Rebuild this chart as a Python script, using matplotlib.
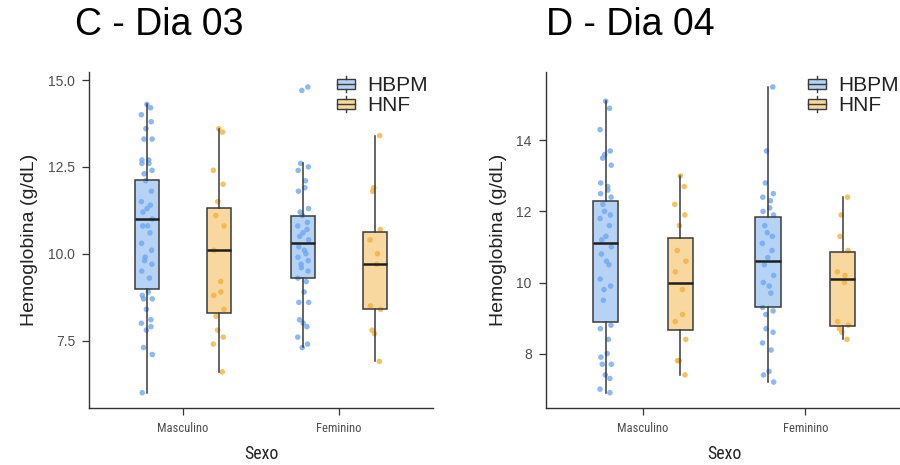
import numpy as np
import matplotlib
matplotlib.use("Agg")
import matplotlib.pyplot as plt
from matplotlib import font_manager
from matplotlib.legend_handler import HandlerBase
from matplotlib.patches import Rectangle
from matplotlib.lines import Line2D

# ---------------- data ----------------
groups = ["HBPM", "HNF"]
categories = ["Masculino", "Feminino"]
titles = ["C - Dia 03", "D - Dia 04"]

# box stats: (whislo, q1, med, q3, whishi)
stats_C_HBPM = [(6.0, 8.99, 11.0, 12.12, 14.32), (7.31, 9.29, 10.31, 11.10, 12.62)]
stats_C_HNF = [(6.61, 8.29, 10.1, 11.31, 13.6), (6.9, 8.4, 9.7, 10.62, 13.4)]
stats_D_HBPM = [(6.9, 8.89, 11.1, 12.30, 15.1), (7.19, 9.30, 10.6, 11.85, 15.5)]
stats_D_HNF = [(7.41, 8.65, 10.0, 11.24, 13.0), (8.40, 8.78, 10.09, 10.86, 12.41)]

# individual points
C_HBPM_M = [14.3, 14.2, 14.0, 13.8, 13.6, 13.3, 13.3, 12.7, 12.7, 12.6, 12.6, 12.4, 12.3,
            12.1, 11.8, 11.5, 11.4, 11.3, 11.2, 11.0, 10.8, 10.8, 10.6, 10.3, 10.1, 9.9,
            9.8, 9.7, 9.5, 9.3, 8.9, 8.8, 8.7, 8.7, 8.4, 8.1, 8.0, 7.9, 7.8, 7.3, 7.1, 6.0]
C_HNF_M = [13.6, 13.5, 12.4, 12.0, 11.5, 11.1, 10.8, 10.1, 9.2, 8.9, 8.8, 8.4, 8.2, 7.8,
           7.6, 7.4, 6.6]
C_HBPM_F = [14.8, 14.7, 12.6, 12.5, 12.4, 12.1, 11.9, 11.8, 11.3, 11.2, 11.1, 10.9, 10.8,
            10.7, 10.6, 10.5, 10.4, 10.2, 10.1, 10.0, 9.9, 9.8, 9.7, 9.6, 9.5, 9.3, 9.2,
            8.9, 8.6, 8.6, 8.1, 8.0, 7.9, 7.6, 7.4, 7.3]
C_HNF_F = [13.4, 11.9, 11.8, 10.7, 10.4, 10.0, 9.7, 8.5, 8.4, 7.8, 7.7, 6.9]

D_HBPM_M = [15.1, 14.9, 14.3, 13.7, 13.6, 13.5, 13.3, 12.8, 12.7, 12.6, 12.5, 12.4, 12.2,
            12.0, 11.9, 11.8, 11.6, 11.3, 11.2, 11.0, 10.8, 10.6, 10.5, 10.1, 9.9, 9.8,
            9.5, 8.8, 8.7, 8.4, 8.0, 7.9, 7.7, 7.7, 7.4, 7.3, 7.0, 6.9]
D_HNF_M = [13.0, 12.7, 12.2, 11.9, 11.6, 10.9, 10.6, 10.3, 9.8, 9.1, 8.9, 8.4, 7.8, 7.8, 7.4]
D_HBPM_F = [15.5, 13.7, 12.8, 12.5, 12.4, 12.3, 12.1, 12.0, 11.9, 11.6, 11.4, 11.3, 11.1,
            10.9, 10.7, 10.5, 10.2, 10.0, 9.9, 9.7, 9.3, 9.2, 9.1, 8.7, 8.6, 8.3, 8.1,
            7.5, 7.4, 7.2]
D_HNF_F = [12.4, 11.9, 11.3, 10.9, 10.3, 10.2, 10.0, 8.9, 8.8, 8.7, 8.6, 8.4]

y_ticks_C = [7.5, 10.0, 12.5, 15.0]
y_ticks_D = [8, 10, 12, 14]

# ---------------- style ----------------
point_col = {"HBPM": "#6fa8ef", "HNF": "#f2b240"}
edge = "#3a3a3a"
tick_col = "#4d4d4d"
fam = ["Liberation Sans", "DejaVu Sans"]


def has_font(name):
    try:
        font_manager.findfont(font_manager.FontProperties(family=name),
                              fallback_to_default=False)
        return True
    except Exception:
        return False


narrow_name = None
for cand in ["Liberation Sans Narrow", "Roboto Condensed", "Open Sans Condensed",
             "DejaVu Sans Condensed"]:
    if has_font(cand):
        narrow_name = cand
        break
if narrow_name is None:
    narrow = dict(family=["Liberation Sans", "DejaVu Sans"], scale=0.75)
else:
    narrow = dict(family=[narrow_name, "DejaVu Sans"], scale=0.95)

fig = plt.figure(figsize=(9, 4.65), dpi=100)
axC = fig.add_axes([0.0989, 0.1226, 0.3822, 0.7232])
axD = fig.add_axes([0.6063, 0.1226, 0.3967, 0.7232])

panels = [
    (axC, {"HBPM": (stats_C_HBPM, [C_HBPM_M, C_HBPM_F]),
           "HNF": (stats_C_HNF, [C_HNF_M, C_HNF_F])}, y_ticks_C, "{:.1f}"),
    (axD, {"HBPM": (stats_D_HBPM, [D_HBPM_M, D_HBPM_F]),
           "HNF": (stats_D_HNF, [D_HNF_M, D_HNF_F])}, y_ticks_D, "{:d}"),
]

offset = {"HBPM": -0.23, "HNF": 0.23}
box_w = 0.155

for ax, data, yt, fmt in panels:
    allv = []
    for g in groups:
        st, pts = data[g]
        for ci, vals in enumerate(pts):
            x0 = ci + 1 + offset[g]
            n = len(vals)
            jit = 0.035 * np.sin(np.arange(n) * 2.39996 + ci)
            ax.scatter(x0 + jit, vals, s=16, color=point_col[g], alpha=0.8,
                       edgecolors="none", zorder=1)
            allv += vals
        bstats = [dict(whislo=lo, q1=q1, med=med, q3=q3, whishi=hi, fliers=[])
                  for (lo, q1, med, q3, hi) in st]
        pos = [ci + 1 + offset[g] for ci in range(len(st))]
        rgb = matplotlib.colors.to_rgb(point_col[g])
        ax.bxp(bstats, positions=pos, widths=box_w, patch_artist=True, showcaps=False,
               showfliers=False,
               boxprops=dict(facecolor=(*rgb, 0.5), edgecolor=edge, linewidth=1.1),
               medianprops=dict(color="#1e1e1e", linewidth=1.8),
               whiskerprops=dict(color=edge, linewidth=1.1), manage_ticks=False)
    lo, hi = min(allv), max(allv)
    r = hi - lo
    ax.set_ylim(lo - 0.05 * r, hi + 0.05 * r)
    ax.set_xlim(0.4, 2.6)
    ax.set_xticks([1, 2])
    ax.set_xticklabels(categories, family=narrow["family"], fontsize=9.5 * narrow["scale"],
                       color=tick_col)
    ax.set_yticks(yt)
    ax.set_yticklabels([fmt.format(v) for v in yt], family=fam, fontsize=10, color=tick_col)
    ax.tick_params(axis="both", length=5, width=0.9, color="#333333", pad=5)
    for s in ["top", "right"]:
        ax.spines[s].set_visible(False)
    for s in ["left", "bottom"]:
        ax.spines[s].set_color("#333333")
        ax.spines[s].set_linewidth(1.0)
    ax.set_ylabel("Hemoglobina (g/dL)", family=fam, fontsize=14, color="#222222", labelpad=7)
    ax.set_xlabel("Sexo", family=narrow["family"], fontsize=13.5 * narrow["scale"],
                  color="#222222", labelpad=7)


class BoxHandler(HandlerBase):
    def create_artists(self, legend, orig_handle, xdescent, ydescent, width, height,
                       fontsize, trans):
        col = orig_handle.get_facecolor()
        w = width
        x0 = -xdescent
        h = height
        y0 = -ydescent
        rect = Rectangle((x0, y0 + h * 0.12), w, h * 0.76, facecolor=col,
                         edgecolor=edge, linewidth=1.0, transform=trans)
        med = Line2D([x0, x0 + w], [y0 + h / 2, y0 + h / 2], color=edge, lw=1.0,
                     transform=trans)
        wt = Line2D([x0 + w / 2, x0 + w / 2], [y0 + h * 0.88, y0 + h * 1.1], color=edge,
                    lw=1.0, transform=trans)
        wb = Line2D([x0 + w / 2, x0 + w / 2], [y0 - h * 0.1, y0 + h * 0.12], color=edge,
                    lw=1.0, transform=trans)
        return [rect, med, wt, wb]


legend_left = [337 / 900, 808 / 900]
for (ax, *_), lx in zip(panels, legend_left):
    handles = [Rectangle((0, 0), 1, 1, facecolor=(0.435, 0.659, 0.937, 0.5)),
               Rectangle((0, 0), 1, 1, facecolor=(0.949, 0.698, 0.251, 0.5))]
    leg = fig.legend(handles, groups, handler_map={Rectangle: BoxHandler()},
                     loc="center left", bbox_to_anchor=(lx, 1 - 95.5 / 465),
                     bbox_transform=fig.transFigure,
                     frameon=False, prop=dict(family=fam, size=15), handlelength=0.85,
                     handleheight=0.62, handletextpad=0.6, labelspacing=0.05,
                     borderpad=0, borderaxespad=0)
    for t in leg.get_texts():
        t.set_color("#222222")

fig.text(75 / 900, 1 - 25 / 465, titles[0], family=fam, fontsize=27, va="center", ha="left")
fig.text(546 / 900, 1 - 25 / 465, titles[1], family=fam, fontsize=27, va="center", ha="left")

fig.savefig("out.png", dpi=100)
